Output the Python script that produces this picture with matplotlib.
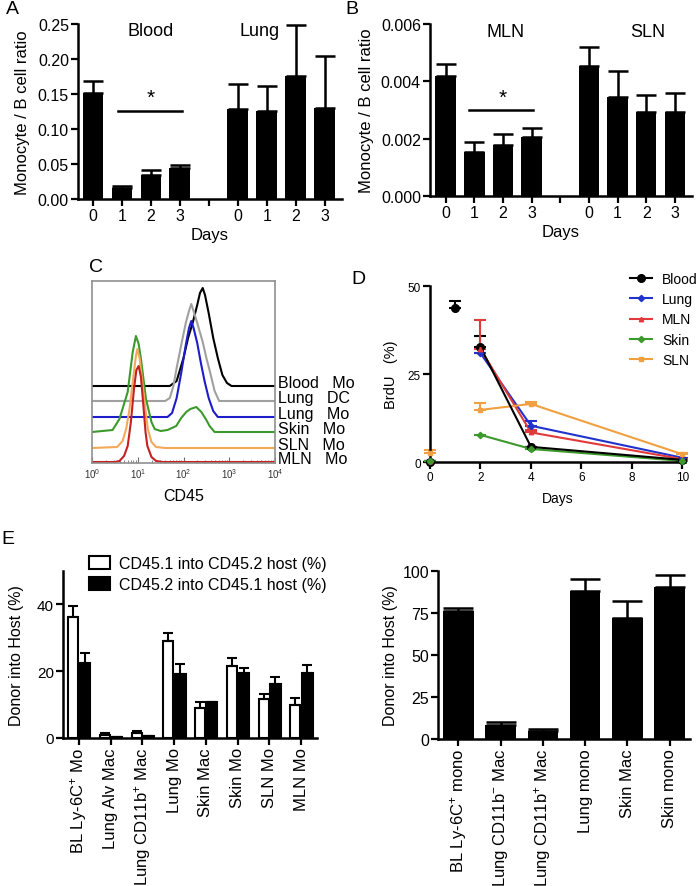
import numpy as np
import matplotlib
matplotlib.use("Agg")
import matplotlib.pyplot as plt
from matplotlib.patches import Patch
from matplotlib.lines import Line2D
from matplotlib.ticker import LogLocator, NullFormatter

plt.rcParams["font.family"] = ["Liberation Sans", "DejaVu Sans"]
plt.rcParams["mathtext.fontset"] = "custom"
plt.rcParams["mathtext.rm"] = "Liberation Sans"
plt.rcParams["mathtext.it"] = "Liberation Sans:italic"

W, H = 700, 887

# ── Panel A: monocyte / B cell ratio, blood and lung ─────────────
a_ticklabels = ["0", "1", "2", "3", "", "0", "1", "2", "3"]
a_blood = [0.151, 0.016, 0.034, 0.044]
a_blood_err = [0.018, 0.003, 0.007, 0.005]
a_lung = [0.128, 0.126, 0.176, 0.130]
a_lung_err = [0.037, 0.036, 0.072, 0.074]

# ── Panel B: MLN and SLN ─────────────────────────────────────────
b_mln = [0.0042, 0.00155, 0.00177, 0.00207]
b_mln_err = [0.0004, 0.00032, 0.00041, 0.00031]
b_sln = [0.00454, 0.00347, 0.00292, 0.00293]
b_sln_err = [0.00066, 0.00089, 0.0006, 0.00065]

# ── Panel C: CD45 histograms (log10 CD45, height above baseline) ─
c_labels = ["Blood   Mo", "Lung   DC", "Lung   Mo", "Skin   Mo", "SLN   Mo", "MLN   Mo"]
c_colors = ["black", "#a0a0a0", "#1c1cc8", "#3c9a2c", "#f4a85a", "#c42222"]
c_x = [
    [0, 1.7, 1.85, 2.0, 2.1, 2.2, 2.3, 2.36, 2.42, 2.47, 2.55, 2.65, 2.75, 2.85, 2.95, 3.05, 4],
    [0, 1.6, 1.7, 1.78, 1.85, 1.95, 2.05, 2.12, 2.17, 2.22, 2.3, 2.42, 2.5, 2.58, 2.68, 2.78, 4],
    [0, 1.65, 1.75, 1.85, 1.95, 2.05, 2.12, 2.17, 2.22, 2.3, 2.38, 2.46, 2.55, 2.65, 2.75, 4],
    [0, 0.45, 0.6, 0.7, 0.78, 0.89, 0.96, 1.02, 1.07, 1.18, 1.3, 1.37, 1.5, 1.65, 1.84, 1.95,
     2.06, 2.15, 2.28, 2.39, 2.5, 2.57, 2.68, 4],
    [0, 0.55, 0.67, 0.75, 0.82, 0.9, 0.96, 0.99, 1.04, 1.11, 1.17, 1.22, 1.3, 1.4, 1.6, 4],
    [0, 0.5, 0.6, 0.7, 0.78, 0.85, 0.92, 0.97, 1.02, 1.07, 1.12, 1.17, 1.21, 1.3, 1.4, 1.55, 4],
]
c_y = [
    [0, 0, 5, 28, 48, 63, 81, 93, 98, 91, 73, 48, 28, 11, 3, 0, 0],
    [0, 0, 3, 15, 33, 56, 78, 90, 97, 90, 78, 59, 43, 29, 10, 0, 0],
    [0, 0, 4, 19, 44, 72, 89, 96, 89, 74, 54, 36, 19, 6, 0, 0],
    [0, 2, 13, 28, 40, 80, 96, 88, 73, 33, 10, 3, 1, 2, 6, 14, 20, 23, 25, 20, 12, 6, 0, 0],
    [0, 1, 7, 20, 39, 70, 92, 99, 90, 62, 38, 19, 6, 1, 0, 0],
    [0, 0, 1, 6, 16, 40, 74, 92, 96, 85, 58, 30, 16, 5, 1, 0, 0],
]
c_offsets = [77, 62, 46, 31, 15, 1]

# ── Panel D: BrdU labelling over time ────────────────────────────
d_blood_days = [0, 1, 2, 4, 10]
d_blood = [0.0, 43.7, 32.6, 4.3, 0.6]
d_blood_err = [0.0, 1.9, 3.3, 0.0, 0.0]
d_days = [0, 2, 4, 10]
d_lung = [0.3, 30.9, 10.3, 1.2]
d_lung_err = [0.0, 0.0, 1.3, 0.0]
d_mln = [0.3, 32.1, 8.4, 0.8]
d_mln_err = [0.0, 8.3, 0.8, 0.0]
d_skin = [0.2, 7.7, 3.7, 0.3]
d_skin_err = [0.0, 0.0, 0.0, 0.0]
d_sln = [2.5, 14.8, 16.5, 2.2]
d_sln_err = [0.8, 2.0, 0.6, 0.4]

# ── Panel E (left): reciprocal chimeras ──────────────────────────
e_cats = ["BL Ly-6C$^{+}$ Mo", "Lung Alv Mac", "Lung CD11b$^{+}$ Mac", "Lung Mo",
          "Skin Mac", "Skin Mo", "SLN Mo", "MLN Mo"]
e_cd451 = [36.2, 1.0, 1.6, 29.0, 8.9, 21.7, 11.6, 10.0]
e_cd451_err = [3.3, 0.5, 0.4, 2.4, 2.0, 2.4, 1.7, 1.9]
e_cd452 = [22.6, 0.3, 0.6, 19.3, 10.9, 19.5, 16.2, 19.5]
e_cd452_err = [2.8, 0.0, 0.1, 3.0, 0.0, 1.5, 2.0, 2.4]

# ── Panel E (right) ──────────────────────────────────────────────
f_cats = ["BL Ly-6C$^{+}$ mono", "Lung CD11b$^{-}$ Mac", "Lung CD11b$^{+}$ Mac",
          "Lung mono", "Skin Mac", "Skin mono"]
f_vals = [75.9, 8.5, 5.0, 87.9, 72.2, 90.5]
f_err = [2.0, 1.5, 1.0, 7.5, 9.9, 6.9]


fig = plt.figure(figsize=(W / 100, H / 100), dpi=100)


def px_axes(left, top, right, bottom):
    return fig.add_axes([left / W, 1 - bottom / H, (right - left) / W, (bottom - top) / H])


def prism_style(ax, size=11.5):
    for s in ["top", "right"]:
        ax.spines[s].set_visible(False)
    for s in ["left", "bottom"]:
        ax.spines[s].set_linewidth(1.8)
    ax.tick_params(direction="out", length=5, width=1.6, labelsize=size, pad=1.5)


def up_err(e):
    return [np.zeros(len(e)), e]


# ── A ────────────────────────────────────────────────────────────
ax = px_axes(78, 25, 342, 200)
prism_style(ax)
ax.bar(range(4), a_blood, width=0.72, color="black",
       yerr=up_err(a_blood_err), capsize=7, error_kw=dict(elinewidth=1.8, capthick=1.8))
ax.bar(range(5, 9), a_lung, width=0.72, color="black",
       yerr=up_err(a_lung_err), capsize=7, error_kw=dict(elinewidth=1.8, capthick=1.8))
ax.set_xlim(-0.52, 8.6)
ax.set_ylim(0, 0.25)
ax.set_xticks(range(9))
ax.set_xticklabels(a_ticklabels)
yt = [0, 0.05, 0.10, 0.15, 0.20, 0.25]
ax.set_yticks(yt)
ax.set_yticklabels([f"{v:.2f}" for v in yt])
ax.plot([0.86, 3.07], [0.126, 0.126], color="black", lw=1.8)
ax.text(2.0, 0.145, "*", ha="center", va="center", fontsize=15)
ax.text(2.0, 0.24, "Blood", ha="center", va="center", fontsize=13)
ax.text(5.75, 0.24, "Lung", ha="center", va="center", fontsize=13)
ax.set_xlabel("Days", fontsize=12, labelpad=3)
ax.set_ylabel("Monocyte / B cell ratio", fontsize=12, labelpad=6)

# ── B ────────────────────────────────────────────────────────────
ax = px_axes(430, 25, 692, 197)
prism_style(ax)
ax.bar(range(4), b_mln, width=0.72, color="black",
       yerr=up_err(b_mln_err), capsize=7, error_kw=dict(elinewidth=1.8, capthick=1.8))
ax.bar(range(5, 9), b_sln, width=0.72, color="black",
       yerr=up_err(b_sln_err), capsize=7, error_kw=dict(elinewidth=1.8, capthick=1.8))
ax.set_xlim(-0.55, 8.6)
ax.set_ylim(0, 0.006)
ax.set_xticks(range(9))
ax.set_xticklabels(a_ticklabels)
yt = [0, 0.002, 0.004, 0.006]
ax.set_yticks(yt)
ax.set_yticklabels([f"{v:.3f}" for v in yt])
ax.plot([0.8, 3.05], [0.003, 0.003], color="black", lw=1.8)
ax.text(2.0, 0.00345, "*", ha="center", va="center", fontsize=15)
ax.text(2.1, 0.00575, "MLN", ha="center", va="center", fontsize=13)
ax.text(7.05, 0.00575, "SLN", ha="center", va="center", fontsize=13)
ax.set_xlabel("Days", fontsize=12, labelpad=3)
ax.set_ylabel("Monocyte / B cell ratio", fontsize=12, labelpad=5)

# ── C ────────────────────────────────────────────────────────────
ax = px_axes(92, 282, 275, 464)
for xs, ys, off, col in zip(c_x, c_y, c_offsets, c_colors):
    ax.plot(10 ** np.array(xs), np.array(ys) + off, color=col, lw=1.5)
ax.set_xscale("log")
ax.set_xlim(1, 1e4)
ax.set_ylim(0, 182)
ax.set_yticks([])
ax.xaxis.set_major_locator(LogLocator(base=10, numticks=10))
ax.xaxis.set_minor_locator(LogLocator(base=10, subs=np.arange(2, 10), numticks=20))
ax.xaxis.set_minor_formatter(NullFormatter())
for s in ax.spines.values():
    s.set_color("#909090")
    s.set_linewidth(1.2)
ax.tick_params(axis="x", which="major", direction="in", length=4, width=0.8,
               colors="#707070", labelsize=7, labelcolor="#333333", pad=2)
ax.tick_params(axis="x", which="minor", direction="in", length=2, width=0.6, colors="#707070")
for lab, off in zip(c_labels, c_offsets):
    ax.text(1.017, (off + 3.5) / 182, lab, transform=ax.transAxes, va="center",
            ha="left", fontsize=11.5, clip_on=False)
ax.set_xlabel("CD45", fontsize=11.5, labelpad=6)

# ── D ────────────────────────────────────────────────────────────
ax = px_axes(430, 287, 685, 463)
prism_style(ax, size=8.5)
d_series = [
    ("Lung", d_days, d_lung, d_lung_err, "#2233cc", "D", 3.2),
    ("MLN", d_days, d_mln, d_mln_err, "#e03a3a", "^", 3.2),
    ("SLN", d_days, d_sln, d_sln_err, "#f0a040", "s", 3.5),
    ("Skin", d_days, d_skin, d_skin_err, "#3c9a2c", "D", 3.2),
]
handles = {}
ax.errorbar(d_blood_days, d_blood, yerr=up_err(d_blood_err), fmt="none",
            ecolor="black", elinewidth=1.5, capsize=4, capthick=1.5, clip_on=False)
for name, xs, ys, er, col, mk, ms in d_series:
    ax.errorbar(xs, ys, yerr=up_err(er), fmt="none", ecolor=col, elinewidth=1.5,
                capsize=4, capthick=1.5, clip_on=False)
    ax.plot(xs[1:], ys[1:], color=col, lw=1.5)
    ax.plot(xs, ys, ls="none", marker=mk, color=col, ms=ms, clip_on=False, zorder=4)
    handles[name] = Line2D([], [], color=col, marker=mk, ms=ms, lw=1.5)
ax.plot(d_blood_days[2:], d_blood[2:], color="black", lw=1.5, zorder=3)
ax.plot(d_blood_days, d_blood, ls="none", marker="o", color="black", ms=5.5,
        clip_on=False, zorder=3)
handles["Blood"] = Line2D([], [], color="black", marker="o", ms=5.5, lw=1.5)
ax.set_xlim(0, 10.1)
ax.set_ylim(0, 50)
ax.set_xticks([0, 2, 4, 6, 8, 10])
ax.set_yticks([0, 25, 50])
ax.set_xlabel("Days", fontsize=10, labelpad=6)
ax.set_ylabel("BrdU   (%)", fontsize=10.5, labelpad=7)
order = ["Blood", "Lung", "MLN", "Skin", "SLN"]
fig.legend([handles[k] for k in order], order, loc="upper left",
           bbox_to_anchor=(630 / W, 1 - 273 / H), frameon=False, fontsize=10,
           borderpad=0, borderaxespad=0, handlelength=1.6, handletextpad=0.7,
           labelspacing=0.45)

# ── E left ───────────────────────────────────────────────────────
ax = px_axes(63, 572, 317, 739)
prism_style(ax, size=11)
pos = np.arange(len(e_cats))
ax.bar(pos - 0.18, e_cd451, width=0.32, color="white", edgecolor="black", linewidth=1.5,
       yerr=up_err(e_cd451_err), capsize=3.5, error_kw=dict(elinewidth=1.5, capthick=1.5))
ax.bar(pos + 0.19, e_cd452, width=0.35, color="black", edgecolor="black", linewidth=1.5,
       yerr=up_err(e_cd452_err), capsize=3.5, error_kw=dict(elinewidth=1.5, capthick=1.5))
ax.set_xlim(-0.5, 7.5)
ax.set_ylim(0, 50)
ax.set_yticks([0, 20, 40])
ax.set_xticks(pos)
ax.set_xticklabels(e_cats, rotation=90, fontsize=12)
ax.set_ylabel("Donor into Host (%)", fontsize=11.5, labelpad=9)
fig.legend([Patch(facecolor="white", edgecolor="black", linewidth=1.5),
            Patch(facecolor="black", edgecolor="black", linewidth=1.5)],
           ["CD45.1 into CD45.2 host (%)", "CD45.2 into CD45.1 host (%)"],
           loc="upper left", bbox_to_anchor=(89 / W, 1 - 557 / H), frameon=False,
           fontsize=11.5, borderpad=0, borderaxespad=0, handlelength=1.3,
           handleheight=0.9, handletextpad=0.6, labelspacing=0.35)

# ── E right ──────────────────────────────────────────────────────
ax = px_axes(438, 572, 690, 740)
prism_style(ax, size=11.5)
pos = np.arange(len(f_cats))
ax.bar(pos, f_vals, width=0.72, color="black",
       yerr=up_err(f_err), capsize=11, error_kw=dict(elinewidth=1.8, capthick=1.8))
ax.set_xlim(-0.48, 5.48)
ax.set_ylim(0, 100)
ax.set_yticks([0, 25, 50, 75, 100])
ax.set_xticks(pos)
ax.set_xticklabels(f_cats, rotation=90, fontsize=12)
ax.set_ylabel("Donor into Host (%)", fontsize=11.5, labelpad=3)

# ── Panel letters ────────────────────────────────────────────────
for letter, x, y in [("A", 12, 10), ("B", 352, 10), ("C", 96, 268),
                     ("D", 358, 280), ("E", 8, 540)]:
    fig.text(x / W, 1 - y / H, letter, ha="center", va="center", fontsize=14)

fig.savefig("out.png", dpi=100)
